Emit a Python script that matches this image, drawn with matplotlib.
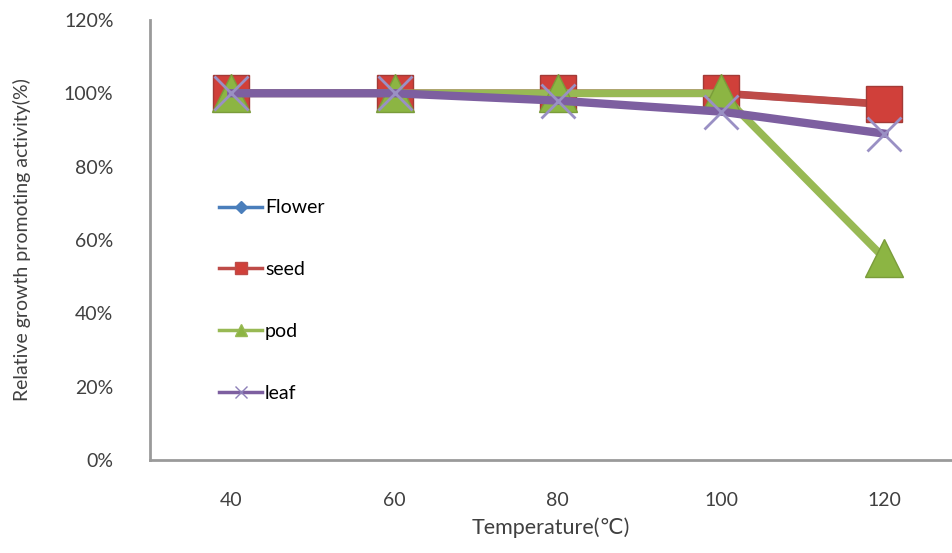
import matplotlib
matplotlib.use('Agg')
from matplotlib import pyplot as plt
from matplotlib.lines import Line2D

# data
temps = ['40', '60', '80', '100', '120']
flower = [1.00, 1.00, 1.00, 1.00, 0.97]
seed = [1.00, 1.00, 1.00, 1.00, 0.97]
pod = [1.00, 1.00, 1.00, 1.00, 0.55]
leaf = [1.00, 1.00, 0.98, 0.95, 0.89]
yticks = [0, 0.2, 0.4, 0.6, 0.8, 1.0, 1.2]

plt.rcParams['font.family'] = ['Lato', 'DejaVu Sans']

fig = plt.figure(dpi=100, figsize=(9.53, 5.53))
ax = fig.add_axes([0.157, 0.168, 0.843, 0.796])

x = list(range(len(temps)))
ax.plot(x, flower, c='#4a7ebb', lw=5, marker='D', ms=14, zorder=2)
ax.plot(x, seed, c='#be4b48', lw=5.5, marker='s', ms=26,
        mfc='#d0403a', mec='#a33a36', zorder=3)
ax.plot(x, pod, c='#98b954', lw=5.5, marker='^', ms=28,
        mfc='#8cb543', mec='#7a9c3a', zorder=4)
ax.plot(x, leaf, c='#7d5fa0', lw=6, marker='x', ms=24, mew=2,
        mec='#9a90c4', zorder=5)

ax.set_xlim(-0.5, 4.42)
ax.set_ylim(0, 1.2)
ax.set_xticks(x)
ax.set_xticklabels(temps)
ax.set_yticks(yticks)
ax.set_yticklabels(['%d%%' % round(v * 100) for v in yticks])
ax.tick_params(axis='both', length=0, labelsize=14, colors='#404040')
ax.tick_params(axis='y', pad=26)
ax.tick_params(axis='x', pad=23)

for s in ['top', 'right']:
    ax.spines[s].set_visible(False)
for s in ['left', 'bottom']:
    ax.spines[s].set_color('#9a9a9a')
    ax.spines[s].set_linewidth(2)

handles = [
    Line2D([], [], c='#4a7ebb', lw=2.5, marker='D', ms=6),
    Line2D([], [], c='#be4b48', lw=2.5, marker='s', ms=8, mfc='#d0403a'),
    Line2D([], [], c='#98b954', lw=2.5, marker='^', ms=8, mfc='#8cb543'),
    Line2D([], [], c='#7d5fa0', lw=2.5, marker='x', ms=8, mec='#8d80b8'),
]
ax.legend(handles, ['Flower', 'seed', 'pod', 'leaf'], loc='upper left',
          bbox_to_anchor=(0.065, 0.632), frameon=False, fontsize=14,
          labelspacing=2.3, handlelength=2.2, handletextpad=0.15)

ax.set_xlabel('Temperature(℃)', fontsize=15.5, color='#404040', labelpad=6)
ax.set_ylabel('Relative growth promoting activity(%)', fontsize=14,
              color='#404040')
ax.yaxis.set_label_coords(-0.148, 0.5)

plt.savefig('out.png')
